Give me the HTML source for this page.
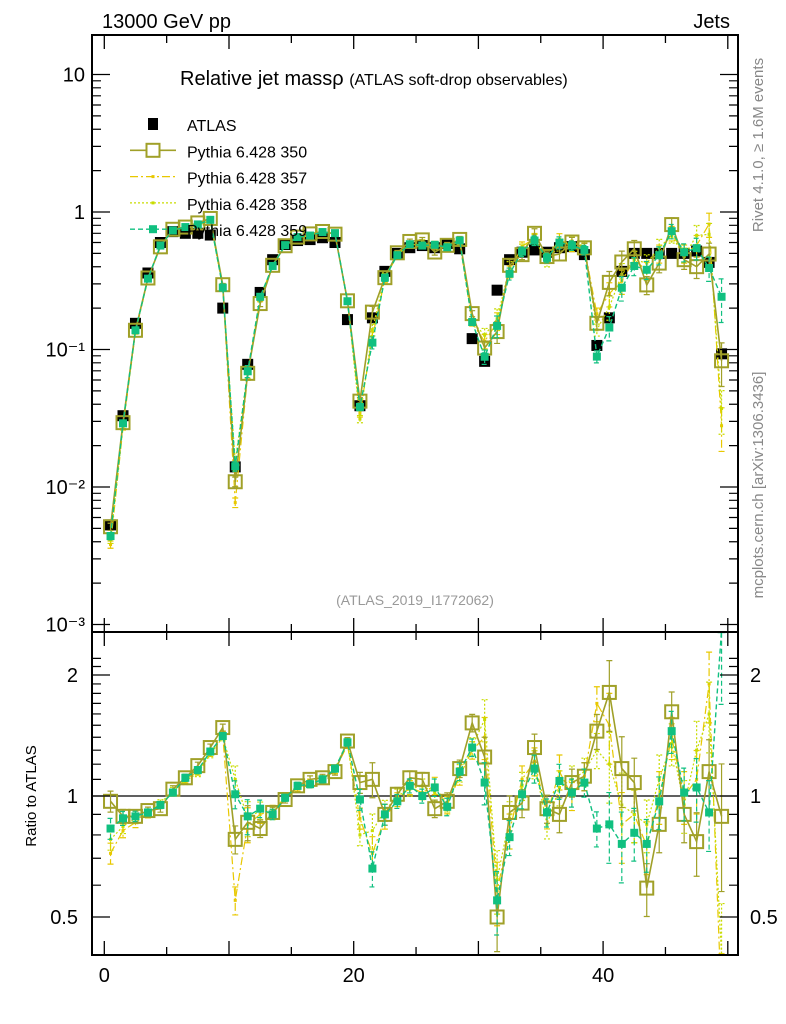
<!DOCTYPE html>
<html><head><meta charset="utf-8"><style>
body{margin:0;background:#fff;overflow:hidden;}
svg{display:block;}
svg text{font-family:"Liberation Sans",sans-serif;}
</style></head><body>
<svg id="c" width="786" height="1024" xmlns="http://www.w3.org/2000/svg">
<rect width="786" height="1024" fill="#fff"/>
<text x="102" y="28" font-size="20">13000 GeV pp</text>
<text x="730" y="28" font-size="20" text-anchor="end">Jets</text>
<text x="180" y="85" font-size="20">Relative jet massρ <tspan font-size="16">(ATLAS soft-drop observables)</tspan></text>
<text x="415" y="605" font-size="14" fill="#999" text-anchor="middle">(ATLAS_2019_I1772062)</text>
<text transform="translate(763,145) rotate(-90)" font-size="15" fill="#888" text-anchor="middle">Rivet 4.1.0, ≥ 1.6M events</text>
<text transform="translate(763,485) rotate(-90)" font-size="15" fill="#888" text-anchor="middle">mcplots.cern.ch [arXiv:1306.3436]</text>
<text transform="translate(36,796) rotate(-90)" font-size="15" text-anchor="middle">Ratio to ATLAS</text>
<g id="plot"></g>
<g id="legend"></g>
</svg>
<script>
const categories = Array.from({length:50},(_,i)=>i+0.5);
const atlas = [0.0053,0.033,0.155,0.36,0.6,0.72,0.7,0.7,0.68,0.2,0.014,0.078,0.26,0.45,0.58,0.62,0.63,0.65,0.6,0.165,0.039,0.17,0.37,0.5,0.55,0.57,0.55,0.59,0.54,0.12,0.082,0.27,0.45,0.51,0.53,0.51,0.55,0.56,0.49,0.107,0.17,0.37,0.5,0.5,0.5,0.5,0.5,0.52,0.43,0.093];
const ratio350 = [0.97,0.89,0.89,0.92,0.93,1.04,1.11,1.19,1.32,1.48,0.78,0.86,0.83,0.91,0.98,1.06,1.1,1.11,1.15,1.37,1.08,1.1,0.9,1.01,1.11,1.1,0.93,0.97,1.17,1.52,1.25,0.5,0.91,0.96,1.32,0.93,0.9,1.08,1.12,1.45,1.81,1.17,1.08,0.59,0.85,1.62,0.9,0.77,1.15,0.89];
const ratio357 = [0.72,0.82,0.86,0.9,0.95,1.02,1.1,1.15,1.28,1.42,0.55,0.85,0.9,0.92,0.99,1.05,1.07,1.1,1.16,1.34,0.88,0.72,0.88,0.98,1.05,1.02,1.06,0.95,1.12,1.3,1.4,0.58,0.82,1.1,1.22,0.9,1.15,1.0,1.12,1.7,1.5,0.85,0.9,0.75,1.0,1.4,1.0,1.1,1.9,0.3];
const ratio358 = [0.78,0.84,0.88,0.9,0.96,1.03,1.09,1.14,1.27,1.4,1.1,0.88,0.92,0.9,1.0,1.06,1.08,1.1,1.17,1.37,0.8,0.82,0.92,1.0,1.04,1.06,1.02,0.96,1.14,1.33,1.55,0.62,0.88,1.06,1.2,0.85,1.05,1.1,1.15,1.3,1.2,0.95,0.9,0.85,1.1,1.35,0.95,1.3,1.6,0.4];
const ratio359 = [0.83,0.88,0.89,0.91,0.95,1.02,1.11,1.16,1.29,1.41,1.01,0.89,0.93,0.9,0.99,1.06,1.07,1.1,1.17,1.36,0.98,0.66,0.9,0.97,1.06,1.0,1.05,0.94,1.15,1.32,1.08,0.55,0.79,1.01,1.17,0.91,1.09,1.02,1.08,0.83,0.85,0.76,0.81,0.76,0.97,1.45,1.02,1.05,0.91,2.6];
const relErr = [0.06,0.04,0.03,0.02,0.02,0.02,0.02,0.02,0.02,0.02,0.08,0.1,0.05,0.03,0.02,0.02,0.02,0.02,0.02,0.02,0.06,0.1,0.06,0.04,0.04,0.04,0.05,0.05,0.05,0.05,0.12,0.18,0.1,0.08,0.08,0.08,0.1,0.08,0.08,0.1,0.2,0.2,0.15,0.15,0.15,0.12,0.15,0.18,0.2,0.35];
const mainTicks = ["10","1","10⁻¹","10⁻²","10⁻³"];
const ratioTicks = ["2","1","0.5"];
const xTicks = ["0","20","40"];

const NS="http://www.w3.org/2000/svg";
const plot=document.getElementById('plot');
const L=92,R=738,T=35,MB=632,RB=955;
const xs=v=>104.3+v*12.47;
const ym=v=>212-137.5*Math.log10(v);
const yr=v=>796-121*Math.log2(v);
function mk(tag,attrs,parent){const e=document.createElementNS(NS,tag);for(const k in attrs)e.setAttribute(k,attrs[k]);(parent||plot).appendChild(e);return e;}
const clipM=mk('clipPath',{id:'cm'});mk('rect',{x:L,y:T,width:R-L,height:MB-T},clipM);
const clipR=mk('clipPath',{id:'cr'});mk('rect',{x:L,y:MB,width:R-L,height:RB-MB},clipR);
const gM=mk('g',{'clip-path':'url(#cm)'});


const gR=mk('g',{'clip-path':'url(#cr)'});



const series=[
 {name:'pythia-357',r:ratio357,color:'#e8c800',dash:'8,3,2,3',msize:3,filled:true,width:1.2},
 {name:'pythia-358',r:ratio358,color:'#c8dc00',dash:'2,2',msize:3,filled:true,width:1.2},
 {name:'pythia-350',r:ratio350,color:'#a0a028',dash:'',msize:13,filled:false,width:1.6},
 {name:'pythia-359',r:ratio359,color:'#10c080',dash:'5,3',msize:8,filled:true,width:1.4},
];
mk('line',{x1:L,x2:R,y1:yr(1),y2:yr(1),stroke:'#000','stroke-width':1.3},gR);

atlas.forEach((v,i)=>{
 const s=11;
 const r=mk('rect',{x:xs(categories[i])-s/2,y:ym(v)-s/2,width:s,height:s,fill:'#000'},gM);
 
 
});
series.forEach(S=>{
 [[gM,i=>ym(atlas[i]*S.r[i]),(i,f)=>ym(atlas[i]*S.r[i]*f)],[gR,i=>yr(S.r[i]),(i,f)=>yr(S.r[i]*f)]].forEach(([g,fy,fe])=>{
  const pts=categories.map((c,i)=>xs(c)+','+fy(i)).join(' ');
  const pl=mk('polyline',{points:pts,fill:'none',stroke:S.color,'stroke-width':S.width,'stroke-dasharray':S.dash},g);
  
  
  categories.forEach((c,i)=>{
   const x=xs(c),e=relErr[i];
   const eb=mk('path',{d:`M${x},${fe(i,1+e)}V${fe(i,Math.max(1-e,0.05))}M${x-3},${fe(i,1+e)}h6M${x-3},${fe(i,Math.max(1-e,0.05))}h6`,stroke:S.color,'stroke-width':1.2,'stroke-dasharray':S.dash,fill:'none'},g);
   
   
   const s=S.msize,y=fy(i);
   const m=mk('rect',{x:x-s/2,y:y-s/2,width:s,height:s,fill:S.filled?S.color:'none',stroke:S.color,'stroke-width':S.filled?0:2},g);
   
   
  });
 });
});
mk('rect',{x:L,y:T,width:R-L,height:RB-T,fill:'none',stroke:'#000','stroke-width':2});
mk('line',{x1:L,x2:R,y1:MB,y2:MB,stroke:'#000','stroke-width':2});
mainTicks.forEach((t,k)=>{
 const y=ym(Math.pow(10,1-k));
 mk('path',{d:`M${L},${y}h18M${R},${y}h-18`,stroke:'#000','stroke-width':1.3});
 const tx=mk('text',{x:85,y:y+7,'font-size':20,'text-anchor':'end'});tx.textContent=t;
 
 
});
for(let d=-3;d<=1;d++)for(let m=2;m<=9;m++){const v=m*Math.pow(10,d),y=ym(v);if(y<T||y>MB)continue;
 mk('path',{d:`M${L},${y}h9M${R},${y}h-9`,stroke:'#000','stroke-width':1.2});}
ratioTicks.forEach(t=>{const y=yr(parseFloat(t));
 mk('path',{d:`M${L},${y}h18M${R},${y}h-18`,stroke:'#000','stroke-width':1.3});
 const a=mk('text',{x:78,y:y+7,'font-size':20,'text-anchor':'end'});a.textContent=t;
 
 
 const b=mk('text',{x:750,y:y+7,'font-size':20});b.textContent=t;
 
 
});
[0.4,0.6,0.7,0.8,0.9,1.1,1.2,1.3,1.4,1.5,1.6,1.7,1.8,1.9,2.1,2.2].forEach(v=>{const y=yr(v);if(y<MB||y>RB)return;
 mk('path',{d:`M${L},${y}h9M${R},${y}h-9`,stroke:'#000','stroke-width':1.2});});
for(let v=0;v<=50;v+=5){const x=xs(v);if(x<L||x>R)continue;const h=v%10==0?14:8;
 mk('path',{d:`M${x},${T}v${h}M${x},${MB}v-${h}M${x},${MB}v${h}M${x},${RB}v-${h}`,stroke:'#000','stroke-width':1.3});}
xTicks.forEach(t=>{const tx=mk('text',{x:xs(+t),y:982,'font-size':20,'text-anchor':'middle'});tx.textContent=t;
 
 });
const lg=document.getElementById('legend');
const entries=[['ATLAS',null],['Pythia 6.428 350',series[2]],['Pythia 6.428 357',series[0]],['Pythia 6.428 358',series[1]],['Pythia 6.428 359',series[3]]];
entries.forEach(([lab,S],k)=>{
 const y=124+k*26.3;
 const g=mk('g',{},lg);
 
 
 if(!S){mk('rect',{x:148,y:y-6,width:10,height:12,fill:'#000'},g);}
 else{mk('line',{x1:130,x2:176,y1:y,y2:y,stroke:S.color,'stroke-width':S.width,'stroke-dasharray':S.dash},g);
  const s=S.msize;mk('rect',{x:153-s/2,y:y-s/2,width:s,height:s,fill:S.filled?S.color:'#fff',stroke:S.color,'stroke-width':S.filled?0:2},g);}
 const t=mk('text',{x:187,y:y+7,'font-size':16},g);t.textContent=lab;
});
</script>
</body></html>
